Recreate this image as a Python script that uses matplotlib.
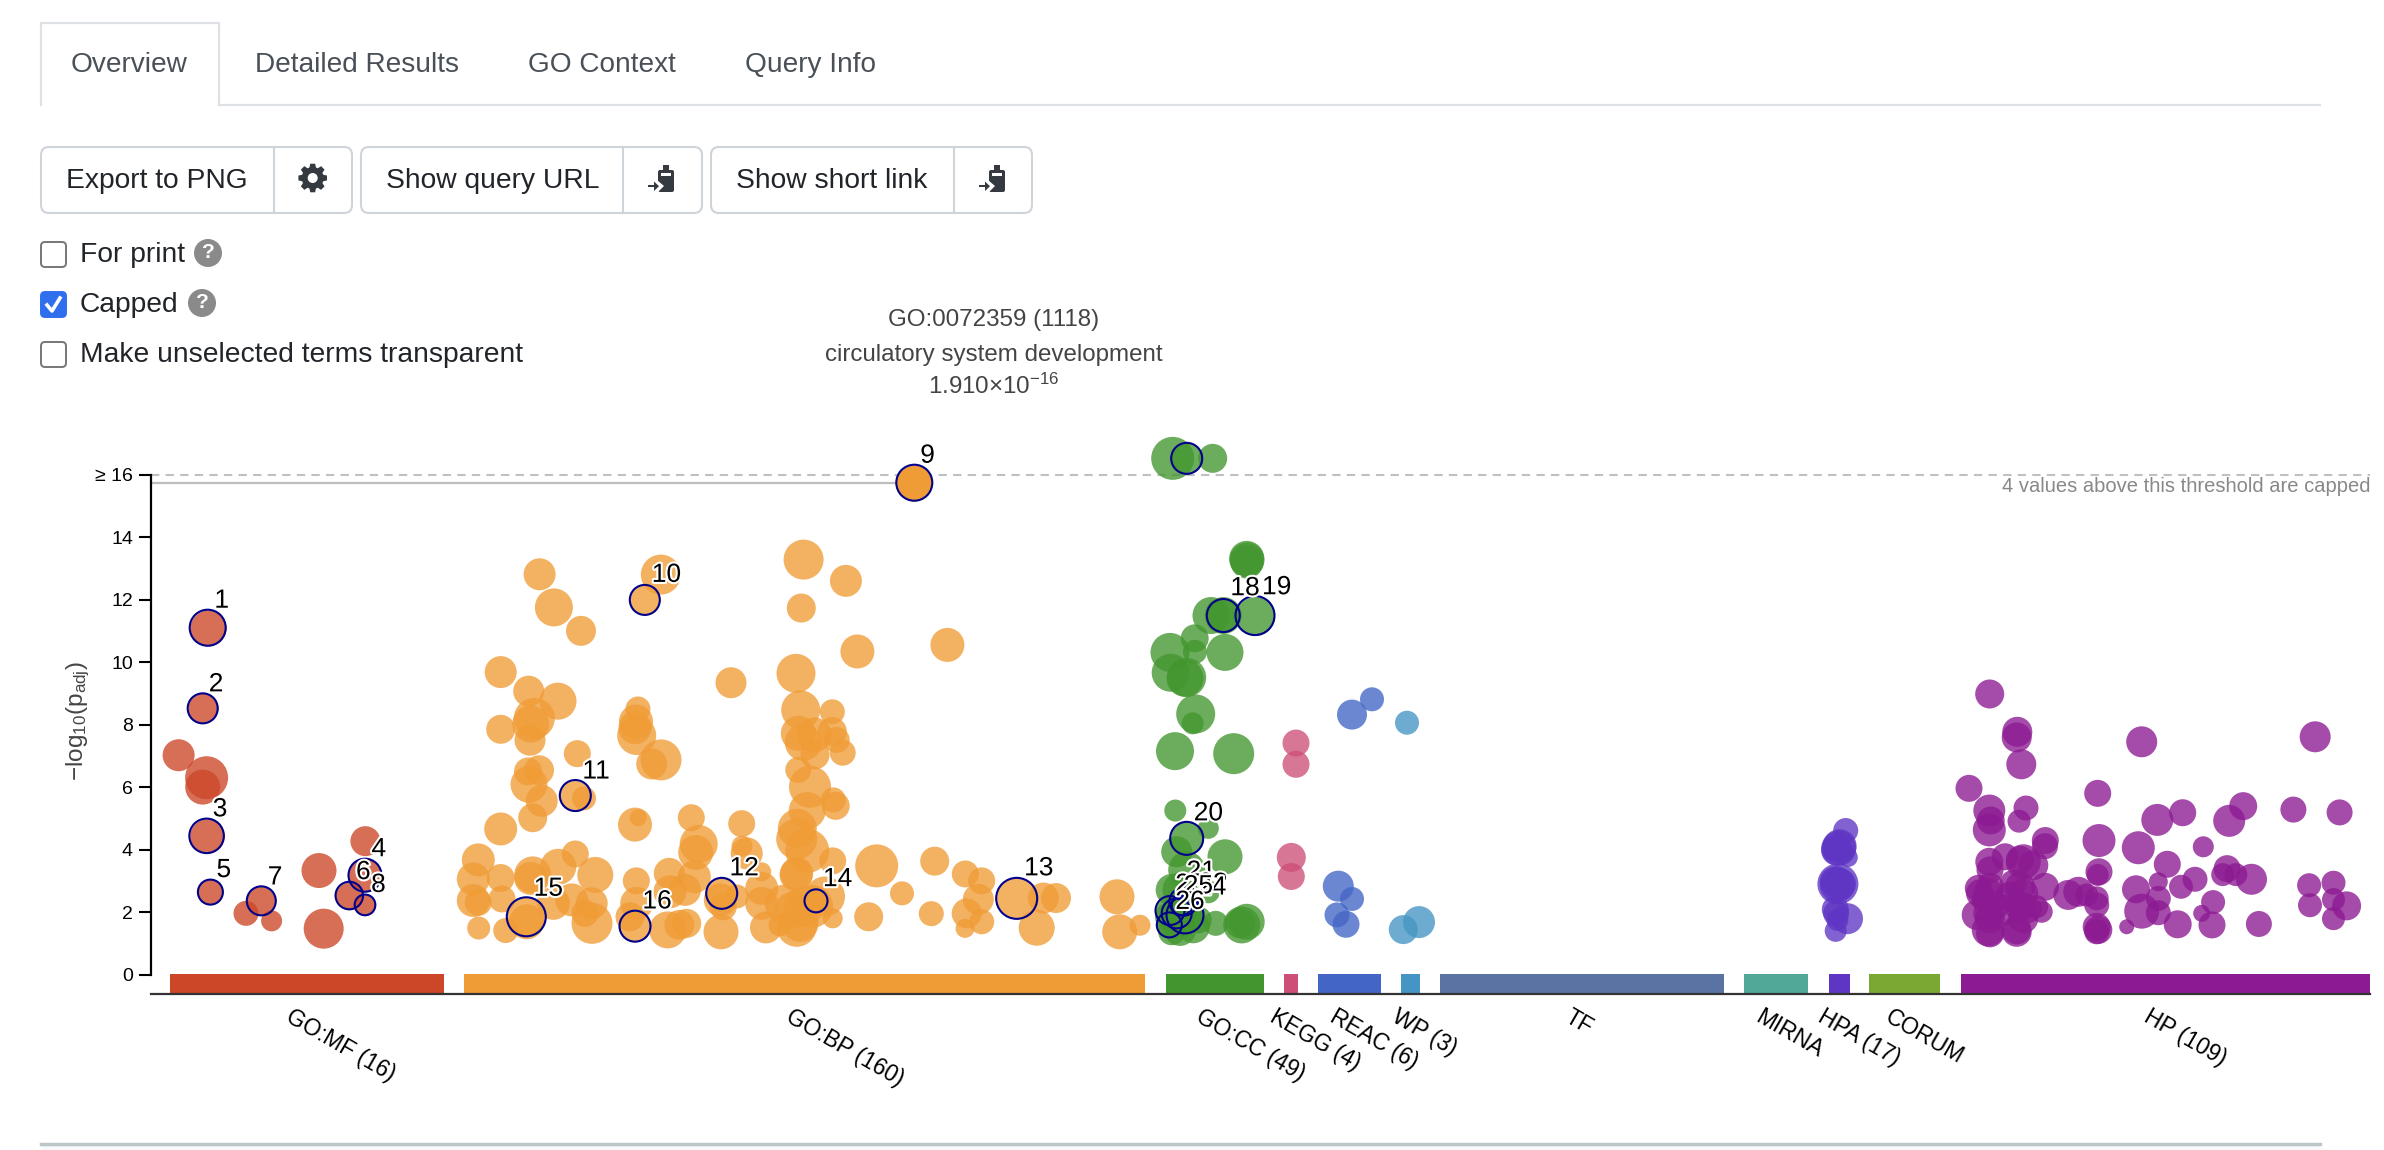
import matplotlib
matplotlib.use('Agg')
import matplotlib.pyplot as plt
import matplotlib.patheffects as pe
import numpy as np
from matplotlib.patches import FancyBboxPatch, Rectangle, Circle, Polygon

plt.rcParams['font.family'] = ['Liberation Sans', 'DejaVu Sans']
plt.rcParams['mathtext.default'] = 'regular'

# sources along the x axis
sources = ['GO:MF (16)', 'GO:BP (160)', 'GO:CC (49)', 'KEGG (4)', 'REAC (6)', 'WP (3)',
           'TF', 'MIRNA', 'HPA (17)', 'CORUM', 'HP (109)']
src_start = [170, 464, 1166, 1284, 1318, 1401, 1440, 1744, 1829, 1869, 1960.5]
src_end = [444, 1145, 1264, 1298, 1381, 1420, 1724, 1808, 1850, 1940, 2370]
src_color = ['#cc4628', '#f09c36', '#43962f', '#cd4f77', '#4365c6', '#4495c3',
             '#5b73a3', '#52a898', '#5f36c4', '#7aa832', '#8c1a92']
label_x = [293, 794, 1203, 1278, 1338, 1399, 1572, 1763, 1826, 1893, 2151]

# unselected terms: position, -log10(p), bubble diameter
mf_x = [178.6, 206.6, 202.7, 246, 271.6, 319, 323.7, 365.4]
mf_y = [7.02, 6.3, 6.0, 1.96, 1.72, 3.33, 1.47, 4.27]
mf_d = [32, 43, 35, 25, 21, 35, 40, 30]

bp_x = [500.7, 528.7, 558, 534.3, 530.7, 500.7, 530, 577.3, 539, 528, 529, 541.7, 532.7, 500.7, 584,
        638, 636, 636.7, 635, 661, 651.7, 635, 638.3, 691.3, 698.7, 695.7, 741.7, 742, 746.7, 731,
        478.3, 473.3, 473.3, 478.3, 478.7, 500.7, 502, 505.7, 532.7, 530.7, 558.3, 575.3, 595.3,
        526.7, 553.3, 571.7, 591.7, 585, 592, 636.3, 630, 636.7, 667.7, 669.3, 670, 694.3, 685,
        686.7, 679.3, 720.3, 721, 723.3, 736.7, 761.7, 761.7, 761.7, 766, 796.7,
        796, 800.7, 832.3, 798.3, 814.3, 803.3, 832.3, 836.7, 842.7, 815, 798.3, 810, 807.3, 833.3,
        835.7, 797.3, 796.7, 807.3, 796, 832.7, 876.7, 934.7, 965.3, 981.7, 978.3, 966.7, 981.7, 965,
        902, 868.7, 931.3, 1043.3, 1056, 1036.7, 1117, 1119.7, 1140,
        793.3, 803.3, 825, 796.7, 800, 811.7, 832.7, 783.3, 780,
        539.6, 553.9, 581, 660.8, 803.6, 845.9, 801.3, 857.4, 947.4]
bp_y = [9.68, 9.07, 8.75, 8.2, 8.02, 7.85, 7.5, 7.07, 6.54, 6.5, 6.09, 5.56, 5.02, 4.66, 5.64,
        8.5, 8.1, 7.65, 7.9, 6.87, 6.74, 4.8, 5.02, 5.02, 4.18, 3.91, 4.83, 4.11, 3.88, 9.34,
        3.67, 3.06, 2.37, 2.31, 1.49, 3.09, 2.42, 1.41, 3.19, 3.08, 3.45, 3.86, 3.19,
        1.69, 2.28, 2.39, 2.28, 1.96, 1.64, 3.0, 1.85, 2.28, 1.43, 3.24, 2.65, 3.13, 2.71,
        1.64, 1.59, 2.39, 1.37, 2.17, 2.5, 3.29, 2.76, 2.28, 1.51, 3.24,
        9.64, 8.47, 8.41, 7.72, 7.67, 7.43, 7.78, 7.51, 7.1, 7.03, 6.55, 6.01, 5.25, 5.59,
        5.4, 4.68, 4.34, 3.96, 3.19, 3.64, 3.48, 3.63, 3.22, 3.0, 2.41, 1.96, 1.69, 1.48,
        2.6, 1.85, 1.95, 2.45, 2.45, 1.5, 2.49, 1.37, 1.58,
        2.07, 2.18, 2.5, 1.53, 1.64, 2.18, 1.8, 2.28, 1.59,
        12.81, 11.75, 11.0, 12.8, 13.28, 12.6, 11.73, 10.34, 10.55]
bp_d = [32, 31, 37, 41, 37, 29, 31, 27, 30, 28, 37, 32, 29, 33, 24,
        25, 34, 39, 33, 41, 31, 34, 17, 27, 38, 35, 27, 21, 32, 31,
        33, 33, 33, 27, 23, 28, 27, 25, 37, 33, 36, 27, 36,
        35, 33, 33, 32, 27, 41, 27, 29, 33, 37, 31, 33, 33, 32,
        29, 30, 33, 35, 27, 24, 19, 33, 33, 32, 33,
        39, 39, 25, 35, 35, 37, 29, 26, 26, 29, 26, 42, 37, 25,
        28, 39, 41, 44, 33, 27, 43, 29, 27, 27, 31, 30, 25, 19,
        24, 29, 25, 31, 30, 36, 35, 35, 21,
        37, 40, 40, 40, 37, 43, 20, 37, 23,
        32, 38, 30, 40, 40, 32, 29, 34, 34]

cc_x = [1172.7, 1212.7, 1246.7, 1247, 1247, 1211, 1223.3, 1194.7, 1225, 1195, 1170, 1170.7, 1186.7, 1185,
        1195.7, 1192.7, 1175, 1233.7, 1175.3, 1208.3, 1176.7, 1225, 1186.7, 1171.7, 1180, 1208.3,
        1171.7, 1193.3, 1180, 1198.3, 1215.7, 1241.7, 1246.7, 1240, 1170, 1183]
cc_y = [16.52, 16.52, 13.32, 13.27, 13.2, 11.49, 11.49, 10.76, 10.31, 10.33, 10.31, 9.66, 9.51, 9.48,
        8.34, 8.04, 7.15, 7.07, 5.25, 4.68, 3.93, 3.77, 3.35, 2.71, 2.71, 2.65,
        1.37, 1.53, 1.43, 1.75, 1.64, 1.59, 1.69, 1.64, 1.85, 2.07]
cc_d = [43, 29, 35, 35, 33, 37, 37, 28, 37, 24, 39, 38, 39, 37,
        39, 22, 38, 41, 22, 21, 31, 35, 37, 32, 35, 23,
        27, 33, 32, 27, 25, 37, 36, 30, 30, 30]

kegg_x = [1296, 1296, 1291.3, 1291.3]
kegg_y = [7.41, 6.73, 3.75, 3.14]
kegg_d = [27, 27, 29, 27]

reac_x = [1352, 1372, 1338.3, 1352, 1337, 1346]
reac_y = [8.32, 8.81, 2.83, 2.42, 1.91, 1.61]
reac_d = [30, 24, 31, 24, 25, 27]

wp_x = [1407, 1403.3, 1419]
wp_y = [8.06, 1.44, 1.68]
wp_d = [24, 29, 32]

hpa_x = [1845.7, 1838.7, 1839.6, 1836.6, 1848.3, 1837.9, 1837.4, 1840.5, 1835.3, 1836.1, 1847.5, 1835.7,
         1835.3, 1837.9, 1837.4, 1841.8, 1833]
hpa_y = [4.61, 4.04, 4.11, 3.98, 3.75, 2.9, 2.87, 2.9, 2.09, 1.96, 1.79, 1.4,
         2.97, 3.04, 1.75, 3.98, 3.98]
hpa_d = [25, 35, 34, 31, 19, 41, 35, 31, 27, 26, 31, 22, 31, 26, 22, 22, 21]

hp_x = [1989.7, 2017.3, 2016.7, 2021.3, 1969, 1989.3, 1990.7, 1989.3, 2026, 2019, 2045.3, 2045, 2097.7, 2141.7,
        2157.3, 2182.7, 2099, 2099, 2097.7, 2138.3, 2167.3, 2203.3, 2195, 2158.3, 2181, 2136, 2158.3, 2141.7,
        2158.3, 2177.7, 2126.7, 2201.7, 2212, 2096.7, 2096.7, 2098.3, 2096.7, 2096.7, 2068.3, 2078.3, 2086.7,
        1989.3, 1990, 2005, 2023.3, 2020, 2033.3, 1978.3, 1980, 1990, 1988.3, 2045, 2020, 2013.3, 2036.7,
        2041.7, 1976.7, 1988.3, 1990, 1988.3, 1990, 2016.7, 2016.7, 2023.3, 2026.7, 2010, 2006.7, 2023.3,
        1996.7, 2020, 1983,
        2315.2, 2293.4, 2339.6, 2243.2, 2229.2, 2227.1, 2222.7, 2235.8, 2251.5, 2309.1, 2333.5, 2310,
        2333.5, 2346.6, 2333.5, 2258.9, 2213.1]
hp_y = [8.98, 7.77, 7.59, 6.73, 5.96, 5.25, 4.93, 4.63, 5.33, 4.91, 4.29, 4.11, 5.8, 7.45,
        4.95, 5.18, 4.29, 3.29, 3.19, 4.06, 3.53, 4.09, 3.05, 2.97, 2.81, 2.73, 2.44, 2.03,
        1.98, 1.61, 1.53, 1.96, 1.59, 2.23, 2.44, 1.43, 1.53, 1.37, 2.55, 2.65, 2.55,
        3.61, 3.35, 3.77, 3.61, 3.67, 3.5, 2.76, 2.6, 2.81, 2.6, 2.81, 2.81, 2.92, 2.17,
        2.01, 1.91, 1.96, 1.8, 1.43, 1.32, 1.43, 1.37, 1.8, 2.12, 2.49, 2.07, 2.6,
        2.23, 2.17, 2.38,
        7.61, 5.28, 5.19, 5.39, 4.92, 3.39, 3.2, 3.2, 3.05, 2.86, 2.94, 2.22,
        2.4, 2.2, 1.79, 1.62, 2.32]
hp_d = [29, 30, 30, 30, 27, 32, 28, 33, 25, 23, 27, 26, 27, 31,
        32, 27, 33, 27, 22, 33, 27, 21, 25, 19, 24, 28, 25, 35,
        25, 28, 15, 17, 27, 25, 24, 28, 28, 25, 30, 30, 23,
        28, 27, 27, 35, 28, 30, 27, 28, 28, 30, 28, 30, 27, 23,
        22, 30, 30, 30, 33, 28, 29, 30, 30, 30, 30, 30, 30,
        27, 30, 23,
        31, 26, 26, 28, 32, 27, 23, 23, 31, 24, 24, 24,
        23, 29, 23, 26, 24]

groups = [(mf_x, mf_y, mf_d, 0), (bp_x, bp_y, bp_d, 1), (cc_x, cc_y, cc_d, 2), (kegg_x, kegg_y, kegg_d, 3),
          (reac_x, reac_y, reac_d, 4), (wp_x, wp_y, wp_d, 5), (hpa_x, hpa_y, hpa_d, 8), (hp_x, hp_y, hp_d, 10)]

# numbered (highlighted) terms
sel_num = list(range(1, 27))
sel_src = [0] * 8 + [1] * 8 + [2] * 10
sel_x = [207.7, 202.7, 206.6, 365, 210.4, 349.3, 261.3, 365,
         914.3, 644.8, 575.3, 721.7, 1016.7, 816, 526.3, 635,
         1186.7, 1223.3, 1255, 1186.7, 1183.3, 1185, 1170, 1181.7, 1176.7, 1169.3]
sel_y = [11.1, 8.52, 4.44, 3.18, 2.64, 2.53, 2.36, 2.23,
         15.74, 11.99, 5.73, 2.6, 2.44, 2.36, 1.85, 1.55,
         16.52, 11.49, 11.49, 4.36, 2.33, 1.91, 2.05, 2.22, 1.96, 1.59]
sel_d = [36, 30, 34.5, 33, 25, 27.5, 29, 20.7,
         36, 30, 31, 31, 41, 23, 39, 31,
         31, 33, 39, 33, 28, 37, 29, 20, 30, 25]
sel_dx = [14, 13.4, 13.4, 13.8, 13.4, 14, 13.8, 13.4,
          13.3, 21.6, 20.7, 22.5, 22, 21.6, 22, 22,
          21.7, 21.7, 21.7, 21.7, 18, 28, 20, 30, 21.7, 20.7]
sel_dy = [27, 24, 26.5, 26, 22, 23.4, 23.4, 20,
          27, 25, 24, 25, 30, 21.7, 28, 24.7,
          25, 27.3, 28.3, 25, 30, 31, 25.7, 17.7, 27, 23]

yticks = [0, 2, 4, 6, 8, 10, 12, 14, 16]
ytick_labels = ['0', '2', '4', '6', '8', '10', '12', '14', '\u2265 16']
hover_y = 15.74
hover_x = 914.3

tabs = ['Overview', 'Detailed Results', 'GO Context', 'Query Info']
tab_x = [71, 255, 528, 745]
button_text = ['Export to PNG', 'Show query URL', 'Show short link']
check_text = ['For print', 'Capped', 'Make unselected terms transparent']

W, H = 2384, 1150
fig = plt.figure(figsize=(W / 100, H / 100), dpi=100, facecolor='white')

# page chrome, in pixels
ui = fig.add_axes([0, 0, 1, 1], zorder=0)
ui.set_xlim(0, W)
ui.set_ylim(H, 0)
ui.axis('off')

TXT = '#495057'
ui.plot([41, 41, 219, 219], [105, 23, 23, 105], color='#dee2e6', lw=1.6, solid_joinstyle='round')
ui.plot([219, 2320], [105, 105], color='#dee2e6', lw=1.6)
for t, x in zip(tabs, tab_x):
    ui.text(x, 65, t, fontsize=20.2, color=TXT, va='center', ha='left')

for left, mid, right, tx, t in zip([41, 361, 711], [274, 623, 954], [352, 702, 1032], [66, 386, 736], button_text):
    ui.add_patch(FancyBboxPatch((left, 147), right - left, 66, boxstyle='round,pad=0,rounding_size=8',
                                fc='white', ec='#ced4da', lw=1.5))
    ui.plot([mid, mid], [147, 213], color='#ced4da', lw=1.5)
    ui.text(tx, 181, t, fontsize=20.3, color='#212529', va='center', ha='left')

# gear icon
ang = np.linspace(0, 2 * np.pi, 8, endpoint=False)
gear = []
for a in ang:
    for da, r in [(-0.3, 11), (-0.17, 14.5), (0.17, 14.5), (0.3, 11)]:
        gear.append([312.7 + r * np.cos(a + da), 178 + r * np.sin(a + da)])
ui.add_patch(Polygon(gear, fc='#343a40', ec='none'))
ui.add_patch(Circle((312.7, 178), 5, fc='white', ec='none'))

# clipboard icons
for cx in [662, 993]:
    ui.add_patch(FancyBboxPatch((cx - 4, 170), 16, 22, boxstyle='round,pad=0,rounding_size=2', fc='#343a40', ec='none'))
    ui.add_patch(Rectangle((cx + 1, 165), 6, 8, fc='#343a40', ec='none'))
    ui.add_patch(Rectangle((cx - 1, 173), 10, 2.5, fc='white', ec='none'))
    ui.add_patch(Polygon([[cx - 5, 180], [cx + 2, 186], [cx - 5, 193]], fc='white', ec='none'))
    ui.add_patch(Rectangle((cx - 14, 185), 8, 2.4, fc='#343a40', ec='none'))
    ui.add_patch(Polygon([[cx - 8, 181.5], [cx - 3, 186.2], [cx - 8, 191]], fc='#343a40', ec='none'))

for y0, t, checked in zip([242, 292, 342], check_text, [False, True, False]):
    ui.add_patch(FancyBboxPatch((41, y0), 25, 25, boxstyle='round,pad=0,rounding_size=4',
                                fc='#2f6fed' if checked else 'white',
                                ec='#2f6fed' if checked else '#767676', lw=1.4))
    if checked:
        ui.plot([47, 52, 60], [y0 + 13, y0 + 19, y0 + 6], color='white', lw=2.6)
    ui.text(80, y0 + 13, t, fontsize=20.3, color='#212529', va='center', ha='left')

for cx, cy in [(208, 253), (202, 303)]:
    ui.add_patch(Circle((cx, cy), 14, fc='#8a8a8a', ec='none'))
    ui.text(cx, cy, '?', fontsize=15, color='white', fontweight='bold', ha='center', va='center')

for yy, t in [(320, 'GO:0072359 (1118)'), (355, 'circulatory system development'),
              (386, '1.910\u00d710$^{-16}$')]:
    ui.text(994, yy, t, fontsize=17.4, color='#444444', ha='center', va='center')

ui.text(2370, 486, '4 values above this threshold are capped', fontsize=14.5, color='#888888', ha='right', va='center')
ui.text(78, 721, '\u2212log$_{10}$(p$_{adj}$)', fontsize=17.5, color='#444444', rotation=90, ha='center', va='center')
ui.plot([41, 2320], [1144, 1144], color='#bcc5c8', lw=2.5)
ui.add_patch(Rectangle((41, 1145), 2279, 5, fc='#f8f9fa', ec='none'))

# the plot itself
ax = fig.add_axes([151 / W, (H - 974.6) / H, (2370 - 151) / W, 500 / H], zorder=1)
ax.patch.set_visible(False)
ax.set_xlim(151, 2370)
ax.set_ylim(0, 16)

for s in ['top', 'right', 'bottom']:
    ax.spines[s].set_visible(False)
ax.spines['left'].set_linewidth(1.6)
ax.set_yticks(yticks, ytick_labels, fontsize=14, color='black')
ax.tick_params(axis='y', length=9, width=1.5, pad=4)
ax.set_xticks(label_x, sources, rotation=-30, ha='left', rotation_mode='anchor', fontsize=16.5, color='black')
ax.tick_params(axis='x', length=0, pad=22)

ax.plot([151, 2370], [16, 16], color='#c0c0c0', lw=1.5, dashes=(4, 3), clip_on=False, zorder=1)
ax.plot([151, hover_x], [hover_y, hover_y], color='#bdbdbd', lw=1.6, clip_on=False, zorder=1)

for a, b, c in zip(src_start, src_end, src_color):
    ax.bar(a, 0.64, width=b - a, bottom=-0.61, align='edge', color=c, clip_on=False, zorder=2)
ax.plot([151, 2370], [-0.62, -0.62], color='#333333', lw=1.6, clip_on=False, zorder=3)

for xs, ys, ds, i in groups:
    ax.scatter(xs, ys, s=[(d * 0.72) ** 2 for d in ds], color=src_color[i], alpha=0.78, linewidths=0,
               clip_on=False, zorder=4)

for n, i, x, y, d in zip(sel_num, sel_src, sel_x, sel_y, sel_d):
    # 9 is the hovered term, drawn solid
    ax.scatter([x], [y], s=(d * 0.72) ** 2, color=src_color[i], alpha=1 if n == 9 else 0.78, linewidths=0,
               clip_on=False, zorder=5)
for n, x, y, d, dx, dy in zip(sel_num, sel_x, sel_y, sel_d, sel_dx, sel_dy):
    ax.scatter([x], [y], s=(d * 0.72) ** 2, facecolors='none', edgecolors='#00008b', linewidths=1.5,
               clip_on=False, zorder=6)
    ax.annotate(str(n), (x, y), xytext=(dx * 0.72, dy * 0.72), textcoords='offset points', fontsize=19,
                color='black', ha='center', va='center', zorder=7 + n * 0.01,
                path_effects=[pe.withStroke(linewidth=3, foreground='white')])

fig.savefig('out.png', dpi=100)
